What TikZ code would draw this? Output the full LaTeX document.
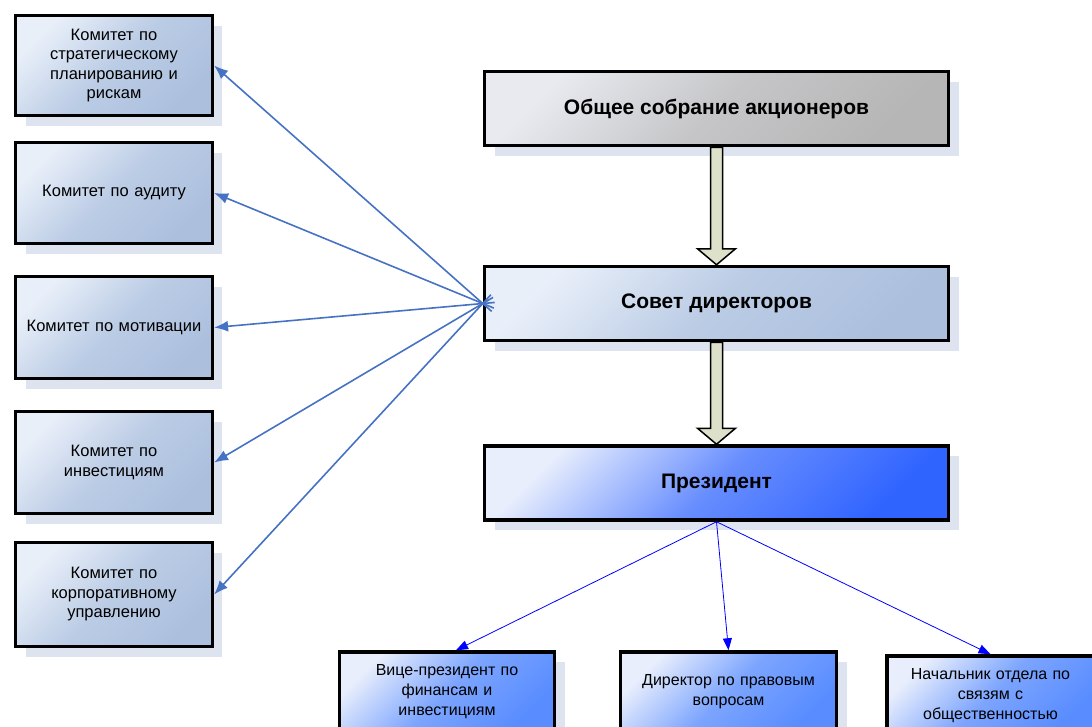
\documentclass[tikz,border=0pt]{standalone}
\usepackage{fontspec}
\setmainfont{Liberation Sans}
\usetikzlibrary{arrows.meta,shadows,calc}
\definecolor{shadowc}{RGB}{221,228,240}
\definecolor{komlight}{RGB}{232,239,249}
\definecolor{komdark}{RGB}{172,192,222}
\definecolor{obslight}{RGB}{232,234,240}
\definecolor{obsdark}{RGB}{182,182,182}
\definecolor{prlight}{RGB}{232,238,252}
\definecolor{prdark}{RGB}{48,100,255}
\definecolor{botdark}{RGB}{88,140,255}
\definecolor{fatfill}{RGB}{222,225,202}
\definecolor{linkblue}{RGB}{70,114,196}

\begin{document}
\begin{tikzpicture}[x=1pt,y=-1pt]
\tikzstyle{box}=[draw,line width=3.5pt,rectangle,align=center,
  drop shadow={shadow xshift=10pt,shadow yshift=-10pt,fill=shadowc,opacity=1}]
\tikzstyle{komitet}=[box,top color=komlight,bottom color=komdark,middle color=komdark!75!komlight,shading angle=45,
  minimum width=195pt,text width=190pt,font=\fontsize{16.5}{19.5}\selectfont]
\tikzstyle{main}=[box,minimum width=464pt,minimum height=74pt,font=\fontsize{21}{24}\bfseries]
\tikzstyle{podch}=[box,top color=prlight,bottom color=botdark,middle color=botdark!75!prlight,shading angle=45,
  minimum height=80pt,text width=200pt,font=\fontsize{16}{20}\selectfont]
\tikzstyle{komarrow}=[draw=linkblue,line width=1.6pt,-{Latex[length=14pt,width=11pt]}]
\tikzstyle{thin}=[draw=blue,line width=0.8pt,-{Triangle[length=12pt,width=9pt]}]
\tikzstyle{fat}=[draw=black,line width=1.5pt,fill=fatfill,line join=miter]

\useasboundingbox (0,0) rectangle (1092,726);
\clip (0,0) rectangle (1092,726);

\node[komitet,minimum height=100pt] (k1) at (114,65.5) {Комитет по\\стратегическому\\планированию и\\рискам};
\node[komitet,minimum height=101pt] (k2) at (114,193) {Комитет по аудиту};
\node[komitet,minimum height=102pt] (k3) at (114,327.5) {Комитет по мотивации};
\node[komitet,minimum height=102pt] (k4) at (114,462.5) {Комитет по\\инвестициям};
\node[komitet,minimum height=104pt] (k5) at (114,594.5) {Комитет по\\корпоративному\\управлению};

\node[main,top color=obslight,bottom color=obsdark,middle color=obsdark!70!obslight,shading angle=45] (obs) at (716.5,108.5) {Общее собрание акционеров};
\node[main,top color=komlight,bottom color=komdark,middle color=komdark!75!komlight,shading angle=45] (sovet) at (716.5,303.5) {Совет директоров};
\node[main,top color=prlight,bottom color=prdark,middle color=prdark!70!prlight,shading angle=45] (pres) at (716.5,483) {Президент};

\node[podch,minimum width=215pt] (vp) at (447,692) {Вице-президент по\\финансам и\\инвестициям};
\node[podch,minimum width=216pt] (dir) at (728.5,692) {Директор по правовым\\вопросам};
\node[podch,minimum width=193pt] (nach) at (990.5,696) {Начальник отдела по\\связям с\\общественностью};

\draw[fat] ($(obs.south)+(-6,0)$) -- ($(sovet.north)+(-6,-16)$) -- ++(-13,0) -- (sovet.north)
  -- ++(19,-16) -- ++(-13,0) -- ($(obs.south)+(6,0)$) -- cycle;
\draw[fat] ($(sovet.south)+(-6,0)$) -- ($(pres.north)+(-6,-16)$) -- ++(-13,0) -- (pres.north)
  -- ++(19,-16) -- ++(-13,0) -- ($(sovet.south)+(6,0)$) -- cycle;

\foreach \k in {1,...,5}
  \draw[komarrow,shorten <=-12pt] (sovet.west) -- (k\k.east);

\draw[thin] (pres.south) -- ($(vp.north)+(9,0)$);
\draw[thin] (pres.south) -- (dir.north);
\draw[thin] (pres.south) -- (nach.north);
\end{tikzpicture}
\end{document}
